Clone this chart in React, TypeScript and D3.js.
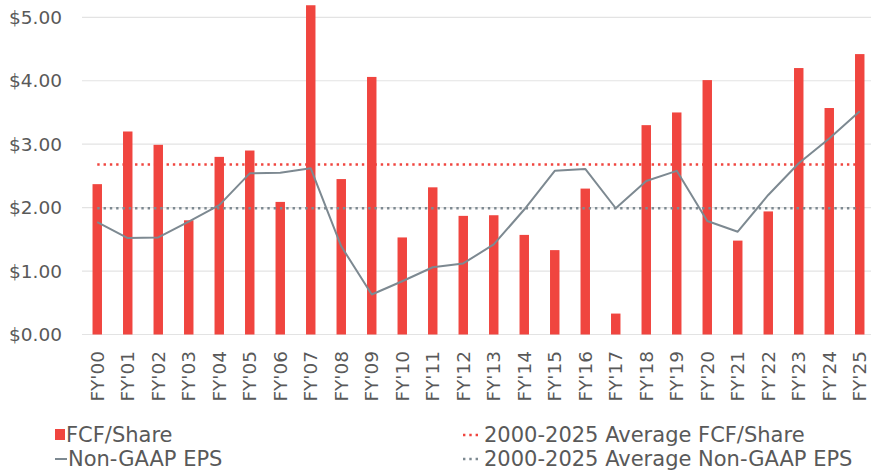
import React from "react";
import * as d3 from "d3";

const categories = ["FY'00","FY'01","FY'02","FY'03","FY'04","FY'05","FY'06","FY'07","FY'08","FY'09","FY'10","FY'11","FY'12","FY'13","FY'14","FY'15","FY'16","FY'17","FY'18","FY'19","FY'20","FY'21","FY'22","FY'23","FY'24","FY'25"];
const fcfPerShare = [2.37,3.20,2.99,1.80,2.80,2.90,2.09,5.19,2.45,4.06,1.53,2.32,1.87,1.88,1.57,1.33,2.30,0.33,3.30,3.50,4.01,1.48,1.94,4.20,3.57,4.42];
const nonGaapEps = [1.77,1.52,1.53,1.78,2.04,2.54,2.55,2.62,1.39,0.63,0.84,1.06,1.12,1.42,1.97,2.58,2.61,1.99,2.42,2.58,1.79,1.62,2.20,2.70,3.09,3.52];
const avgFcf = 2.68;
const avgEps = 1.99;
const yTicks = [0,1,2,3,4,5];
const legendItems = ["FCF/Share","Non-GAAP EPS","2000-2025 Average FCF/Share","2000-2025 Average Non-GAAP EPS"];

const W = 871, H = 472;
const RED = "#F0453F";
const GRAY = "#7D8991";
const TEXT = "#595959";
const FONT = "'DejaVu Sans', sans-serif";

export default function App() {
  const x = d3.scaleBand<string>().domain(categories).range([82, 875]).paddingInner(0.69).paddingOuter(0.345);
  const y = d3.scaleLinear().domain([0, 5]).range([334.5, 17.3]);
  const cx = (c: string) => (x(c) as number) + x.bandwidth() / 2;
  const line = d3.line<number>().x((_, i) => cx(categories[i])).y(d => y(d));
  const avgLine = (v: number) => d3.line<string>().x(c => cx(c)).y(() => y(v))(categories) as string;

  return (
    <svg width={W} height={H} style={{ position: "absolute", left: 0, top: 0, background: "#fff" }} fontFamily={FONT}>
      {yTicks.map(t => (
        <g key={t}>
          <line x1={82} x2={W} y1={y(t)} y2={y(t)} stroke="#E3E3E3" strokeWidth={1.2} />
          <text x={62} y={y(t)} dy="0.36em" textAnchor="end" fontSize={18.5} fill={TEXT}>
            {d3.format("$.2f")(t)}
          </text>
        </g>
      ))}
      {categories.map((c, i) => (
        <rect key={c} x={x(c)} y={y(fcfPerShare[i])} width={x.bandwidth()} height={y(0) - y(fcfPerShare[i])} fill={RED} />
      ))}
      <path d={avgLine(avgFcf)} fill="none" stroke={RED} strokeWidth={2.5} strokeDasharray="2.4 3.9" />
      <path d={avgLine(avgEps)} fill="none" stroke={GRAY} strokeWidth={2.5} strokeDasharray="2.4 3.9" />
      <path d={line(nonGaapEps) as string} fill="none" stroke={GRAY} strokeWidth={2} strokeLinejoin="round" />
      {categories.map(c => (
        <text key={c} transform={`translate(${cx(c)},351) rotate(-90)`} dy="0.36em" textAnchor="end" fontSize={18.5} fill={TEXT}>
          {c}
        </text>
      ))}
      <g fontSize={21} fill={TEXT}>
        <rect x={55} y={429} width={10} height={11} fill={RED} />
        <text x={66} y={442}>{legendItems[0]}</text>
        <line x1={55} x2={67} y1={459} y2={459} stroke={GRAY} strokeWidth={2} />
        <text x={68} y={466}>{legendItems[1]}</text>
        <line x1={463} x2={481} y1={435} y2={435} stroke={RED} strokeWidth={2.5} strokeDasharray="2.4 3.9" />
        <text x={484} y={442}>{legendItems[2]}</text>
        <line x1={463} x2={481} y1={459} y2={459} stroke={GRAY} strokeWidth={2.5} strokeDasharray="2.4 3.9" />
        <text x={484} y={466}>{legendItems[3]}</text>
      </g>
    </svg>
  );
}
